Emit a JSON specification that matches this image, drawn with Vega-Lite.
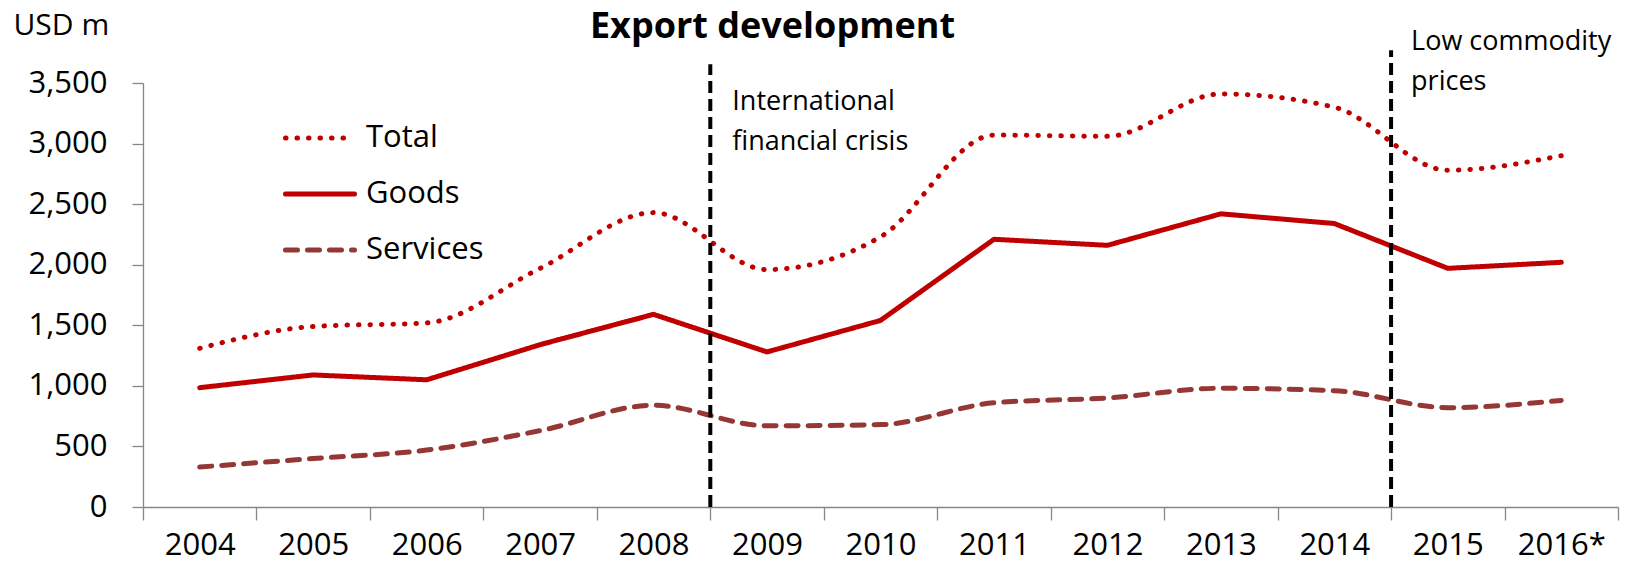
{
  "$schema": "https://vega.github.io/schema/vega-lite/v6.json",
  "width": 1475,
  "height": 424,
  "autosize": {"type": "none"},
  "padding": {"left": 143, "top": 83, "right": 7, "bottom": 59},
  "background": "white",
  "config": {"font": "Open Sans", "view": {"stroke": null}},
  "title": {
    "text": "Export development",
    "fontSize": 36,
    "fontWeight": "bold",
    "color": "#000000",
    "anchor": "middle",
    "frame": "group",
    "baseline": "middle",
    "dx": -108,
    "offset": -53
  },
  "datasets": {
    "exports": [
      {"year": "2004", "series": "Total", "value": 1310},
      {"year": "2005", "series": "Total", "value": 1490},
      {"year": "2006", "series": "Total", "value": 1520},
      {"year": "2007", "series": "Total", "value": 1970},
      {"year": "2008", "series": "Total", "value": 2430},
      {"year": "2009", "series": "Total", "value": 1960},
      {"year": "2010", "series": "Total", "value": 2230},
      {"year": "2011", "series": "Total", "value": 3070},
      {"year": "2012", "series": "Total", "value": 3060},
      {"year": "2013", "series": "Total", "value": 3410},
      {"year": "2014", "series": "Total", "value": 3300},
      {"year": "2015", "series": "Total", "value": 2780},
      {"year": "2016*", "series": "Total", "value": 2900},
      {"year": "2004", "series": "Goods", "value": 985},
      {"year": "2005", "series": "Goods", "value": 1090},
      {"year": "2006", "series": "Goods", "value": 1050},
      {"year": "2007", "series": "Goods", "value": 1340},
      {"year": "2008", "series": "Goods", "value": 1590},
      {"year": "2009", "series": "Goods", "value": 1280},
      {"year": "2010", "series": "Goods", "value": 1540},
      {"year": "2011", "series": "Goods", "value": 2210},
      {"year": "2012", "series": "Goods", "value": 2160},
      {"year": "2013", "series": "Goods", "value": 2420},
      {"year": "2014", "series": "Goods", "value": 2340},
      {"year": "2015", "series": "Goods", "value": 1970},
      {"year": "2016*", "series": "Goods", "value": 2020},
      {"year": "2004", "series": "Services", "value": 330},
      {"year": "2005", "series": "Services", "value": 400},
      {"year": "2006", "series": "Services", "value": 470},
      {"year": "2007", "series": "Services", "value": 630},
      {"year": "2008", "series": "Services", "value": 840},
      {"year": "2009", "series": "Services", "value": 670},
      {"year": "2010", "series": "Services", "value": 680},
      {"year": "2011", "series": "Services", "value": 860},
      {"year": "2012", "series": "Services", "value": 900},
      {"year": "2013", "series": "Services", "value": 980},
      {"year": "2014", "series": "Services", "value": 960},
      {"year": "2015", "series": "Services", "value": 820},
      {"year": "2016*", "series": "Services", "value": 880}
    ],
    "events": [
      {"year": "2009", "label": ["International", "financial crisis"]},
      {"year": "2015", "label": ["Low commodity", "prices"]}
    ]
  },
  "encoding": {
    "x": {
      "field": "year",
      "type": "ordinal",
      "sort": null,
      "scale": {
        "type": "band",
        "paddingInner": 0,
        "paddingOuter": 0,
        "domain": ["2004", "2005", "2006", "2007", "2008", "2009", "2010", "2011", "2012", "2013", "2014", "2015", "2016*"]
      },
      "axis": {
        "title": null,
        "grid": false,
        "domainColor": "#868686",
        "domainWidth": 1.3,
        "tickColor": "#868686",
        "tickWidth": 1.3,
        "tickSize": 13,
        "tickBand": "extent",
        "labelAngle": 0,
        "labelFontSize": 31,
        "labelColor": "#000000",
        "labelPadding": 10
      }
    }
  },
  "layer": [
    {
      "data": {"name": "exports"},
      "transform": [{"filter": "datum.series === 'Goods'"}],
      "mark": {"type": "line", "strokeWidth": 5, "strokeCap": "round", "strokeJoin": "round"},
      "encoding": {
        "y": {
          "field": "value",
          "type": "quantitative",
          "scale": {"domain": [0, 3500], "nice": false},
          "axis": {
            "title": "USD m",
            "titleAngle": 0,
            "titleAlign": "left",
            "titleBaseline": "middle",
            "titleX": -130,
            "titleY": -58,
            "titleFontSize": 30,
            "titleFontWeight": "normal",
            "titleColor": "#000000",
            "values": [0, 500, 1000, 1500, 2000, 2500, 3000, 3500],
            "format": ",.0f",
            "grid": false,
            "domainColor": "#868686",
            "domainWidth": 1.3,
            "tickColor": "#868686",
            "tickWidth": 1.3,
            "tickSize": 11,
            "labelFontSize": 31,
            "labelColor": "#000000",
            "labelPadding": 25
          }
        },
        "color": {
          "field": "series",
          "type": "nominal",
          "scale": {"domain": ["Total", "Goods", "Services"], "range": ["#C00000", "#C00000", "#953735"]},
          "legend": {
            "title": null,
            "orient": "none",
            "legendX": 140,
            "legendY": 18,
            "padding": 0,
            "symbolType": "stroke",
            "symbolSize": 4761,
            "symbolStrokeWidth": 5,
            "labelFontSize": 31,
            "labelColor": "#000000",
            "labelOffset": 9,
            "rowPadding": 4,
            "encode": {"symbols": {"update": {"strokeCap": {"value": "round"}}}}
          }
        },
        "strokeDash": {
          "field": "series",
          "type": "nominal",
          "scale": {"domain": ["Total", "Goods", "Services"], "range": [[0.5, 11], [1, 0], [12, 10]]},
          "legend": {
            "title": null,
            "orient": "none",
            "legendX": 140,
            "legendY": 18,
            "padding": 0,
            "symbolType": "stroke",
            "symbolSize": 4761,
            "symbolStrokeWidth": 5,
            "labelFontSize": 31,
            "labelColor": "#000000",
            "labelOffset": 9,
            "rowPadding": 4,
            "encode": {"symbols": {"update": {"strokeCap": {"value": "round"}}}}
          }
        }
      }
    },
    {
      "data": {"name": "exports"},
      "transform": [{"filter": "datum.series !== 'Goods'"}],
      "mark": {"type": "line", "strokeWidth": 5, "strokeCap": "round", "strokeJoin": "round", "interpolate": "monotone"},
      "encoding": {
        "y": {"field": "value", "type": "quantitative"},
        "color": {"field": "series", "type": "nominal"},
        "strokeDash": {"field": "series", "type": "nominal"}
      }
    },
    {
      "data": {"name": "events"},
      "transform": [{"filter": "datum.year === '2009'"}],
      "layer": [
        {
          "mark": {"type": "rule", "color": "#000000", "strokeWidth": 4, "strokeDash": [12, 6]},
          "encoding": {
            "x": {"field": "year", "type": "ordinal", "bandPosition": 0},
            "y": {"datum": 0},
            "y2": {"datum": 3654}
          }
        },
        {
          "mark": {"type": "text", "align": "left", "baseline": "middle", "fontSize": 27, "lineHeight": 40, "dx": 22, "color": "#000000"},
          "encoding": {
            "x": {"field": "year", "type": "ordinal", "bandPosition": 0},
            "y": {"datum": 3345},
            "text": {"field": "label"}
          }
        }
      ]
    },
    {
      "data": {"name": "events"},
      "transform": [{"filter": "datum.year === '2015'"}],
      "layer": [
        {
          "mark": {"type": "rule", "color": "#000000", "strokeWidth": 4, "strokeDash": [12, 6]},
          "encoding": {
            "x": {"field": "year", "type": "ordinal", "bandPosition": 0},
            "y": {"datum": 0},
            "y2": {"datum": 3770}
          }
        },
        {
          "mark": {"type": "text", "align": "left", "baseline": "middle", "fontSize": 27, "lineHeight": 40, "dx": 20, "color": "#000000"},
          "encoding": {
            "x": {"field": "year", "type": "ordinal", "bandPosition": 0},
            "y": {"datum": 3840},
            "text": {"field": "label"}
          }
        }
      ]
    }
  ]
}
